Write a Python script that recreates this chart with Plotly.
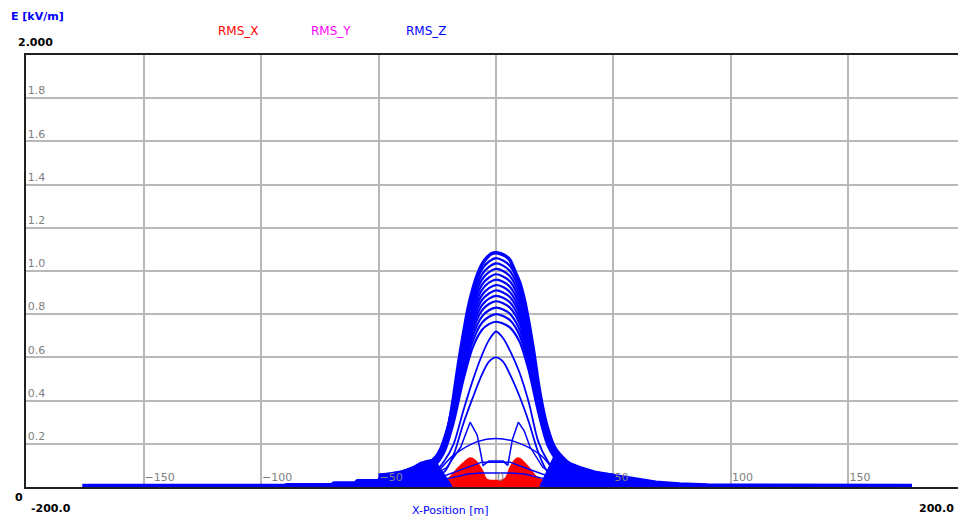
import plotly.graph_objects as go

# ---------------- data ----------------
# common x grid for the RMS_Z family of curves
z_x = [-40, -32, -26, -22, -18, -14, -10, -6, -3, 0, 3, 6, 10, 14, 18, 22, 26, 32, 40]

# family of RMS_Z curves (peaks from ~1.06 down to ~0.6)
rms_z_curves = [
    [0.064, 0.095, 0.138, 0.223, 0.413, 0.678, 0.890, 1.007, 1.044, 1.060, 1.049, 1.023, 0.933, 0.742, 0.477, 0.265, 0.170, 0.106, 0.069],
    [0.062, 0.093, 0.135, 0.217, 0.404, 0.662, 0.869, 0.983, 1.019, 1.035, 1.025, 0.999, 0.911, 0.725, 0.466, 0.259, 0.166, 0.104, 0.067],
    [0.061, 0.091, 0.131, 0.212, 0.394, 0.646, 0.848, 0.960, 0.995, 1.010, 1.000, 0.975, 0.889, 0.707, 0.455, 0.253, 0.162, 0.101, 0.066],
    [0.059, 0.089, 0.128, 0.207, 0.384, 0.630, 0.827, 0.936, 0.970, 0.985, 0.975, 0.951, 0.867, 0.690, 0.443, 0.246, 0.158, 0.099, 0.064],
    [0.058, 0.086, 0.125, 0.202, 0.374, 0.614, 0.806, 0.912, 0.946, 0.960, 0.950, 0.926, 0.845, 0.672, 0.432, 0.240, 0.154, 0.096, 0.062],
    [0.056, 0.084, 0.122, 0.196, 0.365, 0.598, 0.785, 0.888, 0.921, 0.935, 0.926, 0.902, 0.823, 0.655, 0.421, 0.234, 0.150, 0.094, 0.061],
    [0.055, 0.082, 0.118, 0.191, 0.355, 0.582, 0.764, 0.865, 0.896, 0.910, 0.901, 0.878, 0.801, 0.637, 0.410, 0.228, 0.146, 0.091, 0.059],
    [0.053, 0.080, 0.115, 0.186, 0.345, 0.566, 0.743, 0.841, 0.872, 0.885, 0.876, 0.854, 0.779, 0.620, 0.398, 0.221, 0.142, 0.089, 0.058],
    [0.052, 0.077, 0.112, 0.181, 0.335, 0.550, 0.722, 0.817, 0.847, 0.860, 0.851, 0.830, 0.757, 0.602, 0.387, 0.215, 0.138, 0.086, 0.056],
    [0.050, 0.075, 0.108, 0.174, 0.324, 0.531, 0.697, 0.789, 0.818, 0.830, 0.822, 0.801, 0.730, 0.581, 0.374, 0.208, 0.133, 0.083, 0.054],
    [0.048, 0.072, 0.104, 0.168, 0.312, 0.512, 0.672, 0.760, 0.788, 0.800, 0.792, 0.772, 0.704, 0.560, 0.360, 0.200, 0.128, 0.080, 0.052],
    [0.046, 0.069, 0.099, 0.161, 0.298, 0.490, 0.643, 0.727, 0.754, 0.765, 0.757, 0.738, 0.673, 0.536, 0.344, 0.191, 0.122, 0.077, 0.050],
    [0.040, 0.045, 0.070, 0.120, 0.200, 0.350, 0.490, 0.610, 0.680, 0.720, 0.690, 0.630, 0.530, 0.390, 0.210, 0.120, 0.065, 0.045, 0.040],
    [0.030, 0.040, 0.050, 0.070, 0.150, 0.290, 0.410, 0.520, 0.580, 0.600, 0.580, 0.520, 0.420, 0.300, 0.160, 0.070, 0.050, 0.040, 0.030],
]

# outermost RMS_Z curve (maximum envelope)
z_outer_x = [-50, -45, -40, -35, -30, -25, -22, -20, -18, -16, -14, -12, -10, -8, -6, -4, -2, 0,
             2, 4, 6, 8, 10, 12, 14, 16, 18, 20, 22, 25, 28, 32, 36, 40, 45, 50]
z_outer_y = [0.055, 0.06, 0.07, 0.09, 0.115, 0.13, 0.22, 0.29, 0.42, 0.57, 0.70, 0.82, 0.91, 0.98, 1.03, 1.06, 1.08, 1.085,
             1.08, 1.07, 1.05, 1.00, 0.95, 0.87, 0.76, 0.63, 0.48, 0.36, 0.27, 0.18, 0.14, 0.10, 0.085, 0.07, 0.06, 0.055]

# low (stair-stepped) tails of RMS_Z
z_left_tail_x = [-176, -90, -89, -70, -69, -60, -59, -50, -49, -45, -40, -35, -32, -28, -25, -19]
z_left_tail_y = [0.008, 0.008, 0.012, 0.012, 0.02, 0.02, 0.03, 0.03, 0.055, 0.06, 0.07, 0.09, 0.11, 0.12, 0.10, 0.0]
z_right_tail_x = [19, 25, 28, 31, 36, 42, 50, 58, 68, 78, 90, 177]
z_right_tail_y = [0.0, 0.14, 0.13, 0.11, 0.09, 0.07, 0.055, 0.04, 0.023, 0.015, 0.010, 0.008]

# bimodal RMS_Z curve
z_bi_x = [-40, -28, -21, -15, -11, -8, -5.5, -3, 0, 3, 5, 7, 9.5, 12, 14.5, 20, 27, 40]
z_bi_y = [0.03, 0.045, 0.09, 0.185, 0.30, 0.24, 0.10, 0.12, 0.12, 0.12, 0.10, 0.22, 0.30, 0.26, 0.185, 0.09, 0.045, 0.03]

# broad low RMS_Z curve
z_broad_x = [-40, -28, -18, -8, 0, 8, 19, 28, 40]
z_broad_y = [0.03, 0.045, 0.148, 0.21, 0.225, 0.21, 0.148, 0.045, 0.03]

# small RMS_Z curves
z_small_x = [-30, -20, -12, -6, 0, 6, 12, 20, 30]
z_small1_y = [0.02, 0.06, 0.09, 0.115, 0.115, 0.115, 0.09, 0.06, 0.02]
z_small2_y = [0.02, 0.04, 0.06, 0.065, 0.065, 0.065, 0.06, 0.04, 0.02]

# RMS_X (red) envelope
x_red_x = [-24, -20, -16, -13, -11, -9, -6, -4, -2, 0, 2, 4, 6, 8, 9.5, 11, 14, 17, 20, 24]
x_red_y = [0.0, 0.04, 0.09, 0.12, 0.134, 0.125, 0.08, 0.035, 0.03, 0.03, 0.03, 0.04, 0.09, 0.125, 0.134, 0.125, 0.09, 0.05, 0.03, 0.0]

# RMS_Y (magenta), very small, hidden under the others
y_mag_x = [-30, -15, 0, 15, 30]
y_mag_y = [0.005, 0.01, 0.012, 0.01, 0.005]

x_ticks = [-150, -100, -50, 0, 50, 100, 150]
y_ticks = [0.2, 0.4, 0.6, 0.8, 1.0, 1.2, 1.4, 1.6, 1.8]
y_tick_text = ["0.2", "0.4", "0.6", "0.8", "1.0", "1.2", "1.4", "1.6", "1.8"]

BLUE = "#0000ff"
RED = "#ff0000"
MAG = "#ff00ff"

fig = go.Figure()

# magenta
fig.add_trace(go.Scatter(x=y_mag_x, y=y_mag_y, mode="lines", line=dict(color=MAG, width=2), name="RMS_Y"))

# red filled
fig.add_trace(go.Scatter(x=x_red_x, y=x_red_y, mode="lines", fill="tozeroy", fillcolor=RED,
                         line=dict(color=RED, width=1.5, shape="spline"), name="RMS_X"))

# tails
fig.add_trace(go.Scatter(x=z_left_tail_x, y=z_left_tail_y, mode="lines", fill="tozeroy", fillcolor=BLUE,
                         line=dict(color=BLUE, width=3), name="RMS_Z"))
fig.add_trace(go.Scatter(x=z_right_tail_x, y=z_right_tail_y, mode="lines", fill="tozeroy", fillcolor=BLUE,
                         line=dict(color=BLUE, width=3), name="RMS_Z"))

# small and bimodal curves
for yy in (z_small1_y, z_small2_y):
    fig.add_trace(go.Scatter(x=z_small_x, y=yy, mode="lines", line=dict(color=BLUE, width=1.5), name="RMS_Z"))
fig.add_trace(go.Scatter(x=z_bi_x, y=z_bi_y, mode="lines", line=dict(color=BLUE, width=1.5), name="RMS_Z"))
fig.add_trace(go.Scatter(x=z_broad_x, y=z_broad_y, mode="lines", line=dict(color=BLUE, width=1.5, shape="spline"), name="RMS_Z"))

# family
for i, yy in enumerate(rms_z_curves):
    w = 2.2 if i < 12 else 1.8
    fig.add_trace(go.Scatter(x=z_x, y=yy, mode="lines", line=dict(color=BLUE, width=w, shape="spline", smoothing=0.8),
                             name="RMS_Z"))

# outer
fig.add_trace(go.Scatter(x=z_outer_x, y=z_outer_y, mode="lines", line=dict(color=BLUE, width=3.5, shape="spline", smoothing=0.6),
                         name="RMS_Z"))

FONT = "DejaVu Sans"

fig.update_layout(
    width=958, height=518,
    margin=dict(l=26, r=0, t=55, b=31),
    paper_bgcolor="white", plot_bgcolor="white",
    showlegend=False,
    font=dict(family=FONT, size=11, color="#808080"),
    xaxis=dict(range=[-200, 196.6], tickvals=x_ticks, ticklabelposition="inside right",
               showgrid=True, gridcolor="#b8b8b8", gridwidth=1.5,
               showline=True, linecolor="#202020", linewidth=2, mirror=True,
               zeroline=False, ticks="", tickfont=dict(family=FONT, size=11, color="#808080")),
    yaxis=dict(range=[0, 2], tickvals=y_ticks, ticktext=y_tick_text, ticklabelposition="inside top",
               showgrid=True, gridcolor="#b8b8b8", gridwidth=1.5,
               showline=True, linecolor="#202020", linewidth=2,
               zeroline=False, ticks="", tickfont=dict(family=FONT, size=11, color="#808080")),
)

W = 932.0
H = 432.0


def px(xp):
    return (xp - 26) / W


def py(yp):
    return (487 - yp) / H


annots = [
    dict(text="E [kV/m]", x=px(9), y=py(17), xanchor="left", color=BLUE, bold=True, size=11),
    dict(text="2.000", x=px(16), y=py(42), xanchor="left", color="black", bold=True, size=11),
    dict(text="0", x=px(13), y=py(497), xanchor="left", color="black", bold=True, size=11),
    dict(text="-200.0", x=px(29), y=py(509), xanchor="left", color="black", bold=True, size=11),
    dict(text="200.0", x=px(956), y=py(509), xanchor="right", color="black", bold=True, size=11),
    dict(text="X-Position [m]", x=px(450), y=py(510), xanchor="center", color=BLUE, bold=False, size=11),
    dict(text="RMS_X", x=px(238), y=py(31), xanchor="center", color=RED, bold=False, size=12),
    dict(text="RMS_Y", x=px(331), y=py(31), xanchor="center", color=MAG, bold=False, size=12),
    dict(text="RMS_Z", x=px(426), y=py(31), xanchor="center", color=BLUE, bold=False, size=12),
]
for a in annots:
    txt = "<b>" + a["text"] + "</b>" if a["bold"] else a["text"]
    fig.add_annotation(text=txt, x=a["x"], y=a["y"], xref="paper", yref="paper",
                       xanchor=a["xanchor"], yanchor="middle", showarrow=False,
                       font=dict(family=FONT, size=a["size"], color=a["color"]))

fig.write_html("out.html")
